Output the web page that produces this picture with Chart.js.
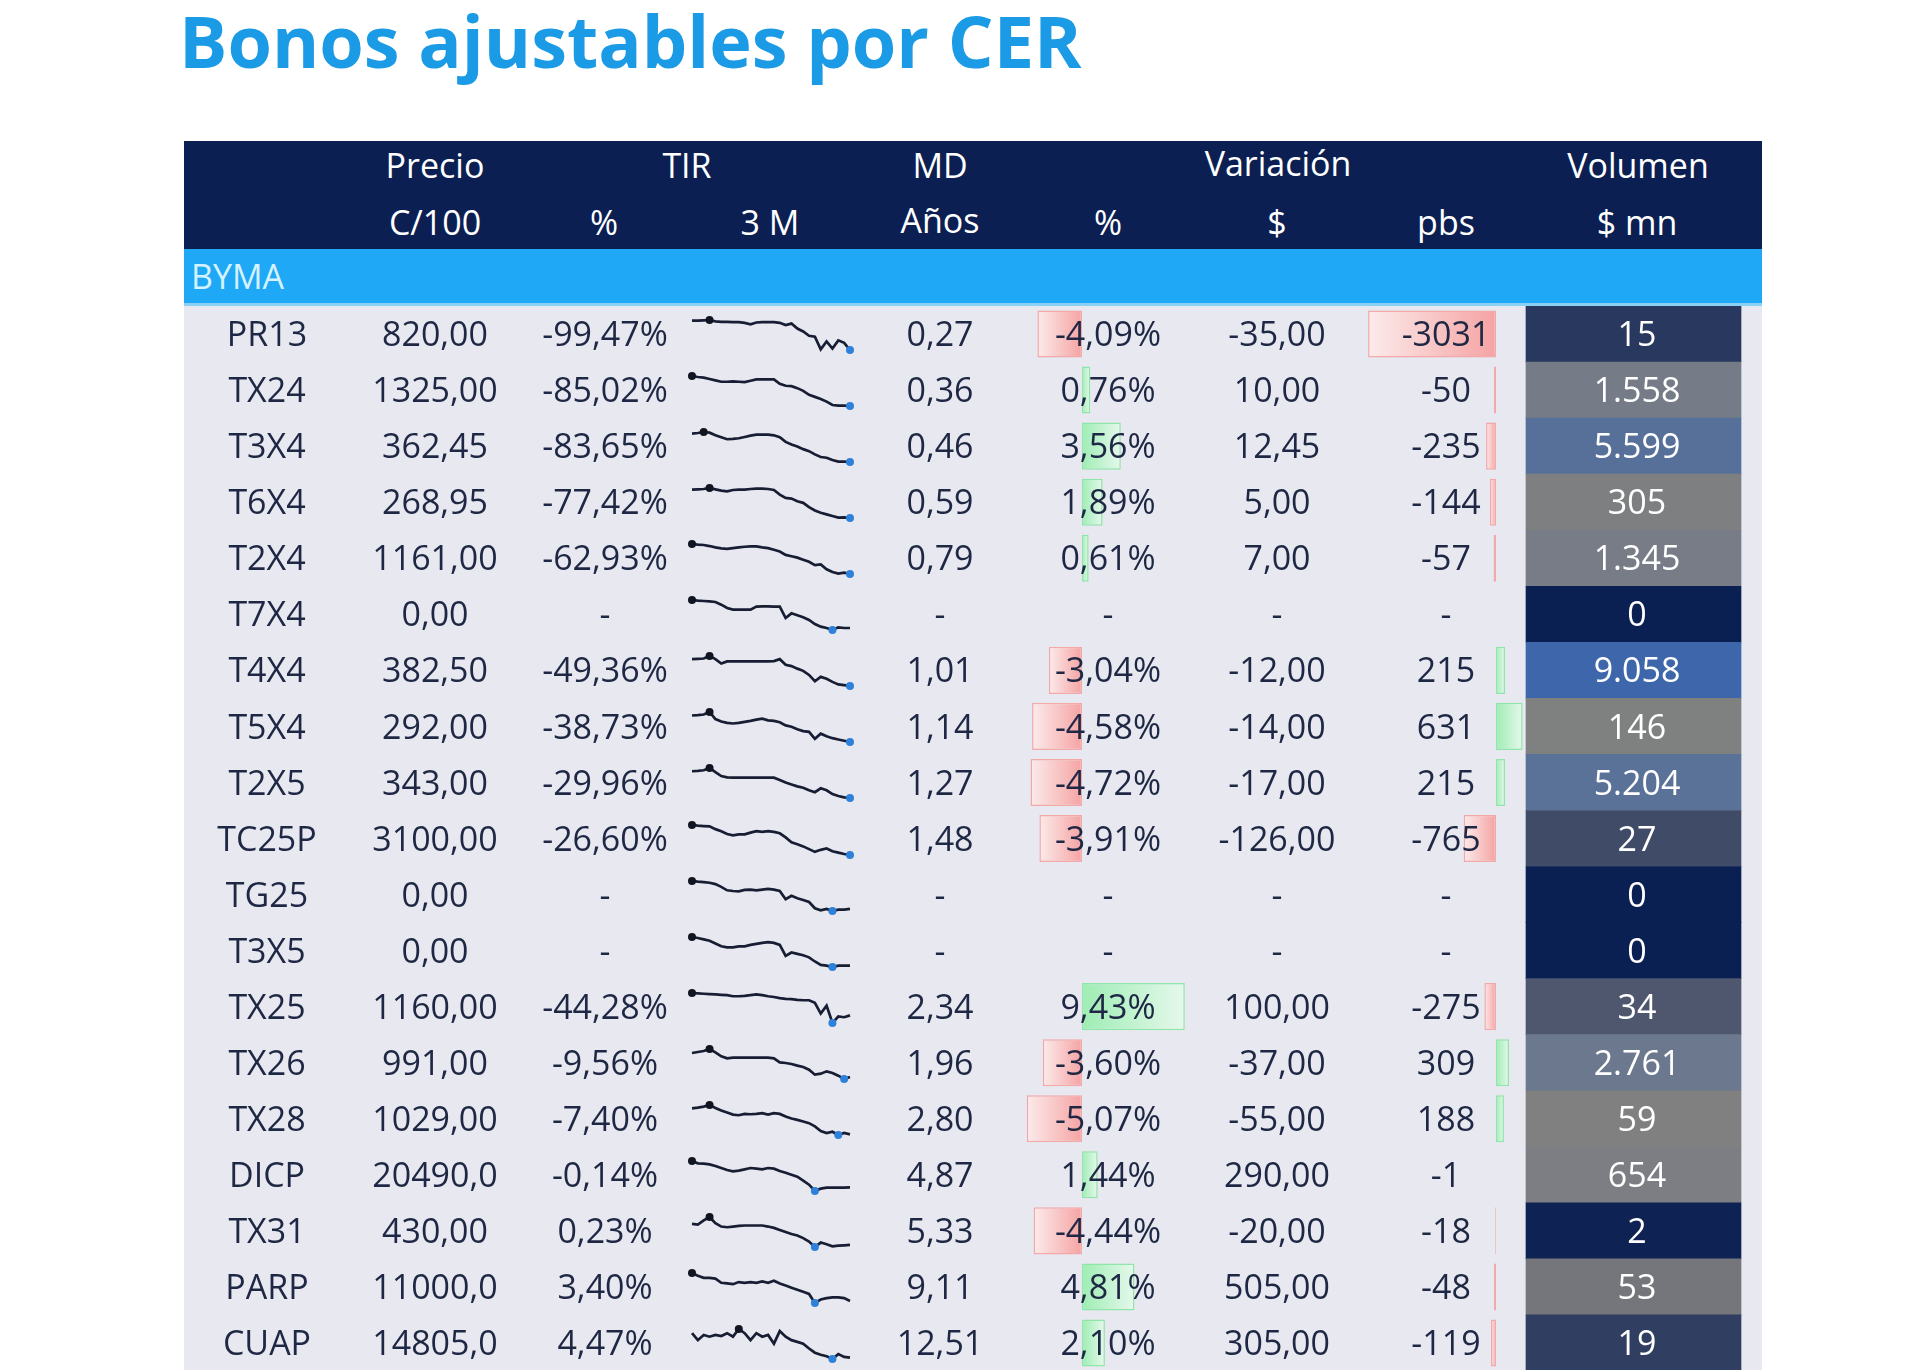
<!DOCTYPE html>
<html lang="es">
<head>
<meta charset="utf-8">
<title>Bonos ajustables por CER</title>
<script src="https://cdn.jsdelivr.net/npm/chart.js@4.4.1/dist/chart.umd.min.js"></script>
<style>
  html, body { margin: 0; padding: 0; background: #fff; width: 1920px; height: 1370px; overflow: hidden; font-family: 'Open Sans', sans-serif; }
  #title { position: absolute; left: 179px; top: 4px; font-size: 72px; line-height: 72px; font-weight: 700; color: #1b9be5; white-space: nowrap; }
  #head { position: absolute; left: 184px; top: 141px; width: 1578px; height: 108px; background: #0b1f53; }
  #byma { position: absolute; left: 184px; top: 249px; width: 1578px; height: 57px; background: #1fa8f5; border-bottom: 3px solid #8ad1f6; box-sizing: border-box; }
  #byma span { position: absolute; left: 7px; top: 50%; transform: translateY(-50%); color: #d4f2ff; font-size: 34px; }
  .h { position: absolute; color: #fff; font-size: 34px; line-height: 40px; transform: translate(-50%, -50%); white-space: nowrap; }
  #body { position: absolute; left: 184px; top: 306px; width: 1578px; height: 1065px; background: #e8e9f0; }
  #main { position: absolute; left: 0; top: 0; }
  .spark { position: absolute; }
</style>
</head>
<body>
<div id="title">Bonos ajustables por CER</div>
<div id="head">
  <div class="h" style="left:251px;top:24px">Precio</div>
  <div class="h" style="left:503px;top:24px">TIR</div>
  <div class="h" style="left:756px;top:24px">MD</div>
  <div class="h" style="left:1094px;top:22px">Variación</div>
  <div class="h" style="left:1454px;top:24px">Volumen</div>
  <div class="h" style="left:251px;top:81px">C/100</div>
  <div class="h" style="left:420px;top:81px">%</div>
  <div class="h" style="left:586px;top:81px">3 M</div>
  <div class="h" style="left:756px;top:79px">Años</div>
  <div class="h" style="left:924px;top:81px">%</div>
  <div class="h" style="left:1093px;top:81px">$</div>
  <div class="h" style="left:1262px;top:81px">pbs</div>
  <div class="h" style="left:1453px;top:81px">$ mn</div>
</div>
<div id="byma"><span>BYMA</span></div>
<div id="body"><canvas id="main" width="1578" height="1065"></canvas></div>
<script>
// ---- data ----
const tickers = ['PR13', 'TX24', 'T3X4', 'T6X4', 'T2X4', 'T7X4', 'T4X4', 'T5X4', 'T2X5', 'TC25P',
                 'TG25', 'T3X5', 'TX25', 'TX26', 'TX28', 'DICP', 'TX31', 'PARP', 'CUAP'];
const precio = [820, 1325, 362.45, 268.95, 1161, 0, 382.5, 292, 343, 3100,
                0, 0, 1160, 991, 1029, 20490, 430, 11000, 14805];
const tir = [-99.47, -85.02, -83.65, -77.42, -62.93, null, -49.36, -38.73, -29.96, -26.60,
             null, null, -44.28, -9.56, -7.40, -0.14, 0.23, 3.40, 4.47];
const md = [0.27, 0.36, 0.46, 0.59, 0.79, null, 1.01, 1.14, 1.27, 1.48,
            null, null, 2.34, 1.96, 2.80, 4.87, 5.33, 9.11, 12.51];
const varPct = [-4.09, 0.76, 3.56, 1.89, 0.61, null, -3.04, -4.58, -4.72, -3.91,
                null, null, 9.43, -3.60, -5.07, 1.44, -4.44, 4.81, 2.10];
const varPesos = [-35, 10, 12.45, 5, 7, null, -12, -14, -17, -126,
                  null, null, 100, -37, -55, 290, -20, 505, 305];
const varPbs = [-3031, -50, -235, -144, -57, null, 215, 631, 215, -765,
                null, null, -275, 309, 188, -1, -18, -48, -119];
const volumen = [15, 1558, 5599, 305, 1345, 0, 9058, 146, 5204, 27,
                 0, 0, 34, 2761, 59, 654, 2, 53, 19];

// 3 month sparklines (relative levels)
const sparkPR13 = [90, 90, 91, 92, 88, 87, 87, 86, 86, 84, 80, 85, 86, 86, 86, 84, 78, 82, 68, 60, 48, 45, 10, 32, 12, 35, 28, 8];
const sparkTX24 = [98, 95, 93, 89, 85, 81, 81, 82, 81, 80, 84, 88, 88, 88, 88, 75, 69, 68, 62, 54, 42, 36, 30, 22, 12, 10, 10, 9];
const sparkT3X4 = [95, 97, 100, 98, 90, 84, 78, 79, 81, 85, 89, 92, 92, 92, 90, 84, 70, 62, 56, 48, 42, 32, 24, 22, 15, 10, 10, 9];
const sparkT6X4 = [95, 96, 97, 100, 96, 92, 90, 94, 95, 95, 97, 98, 98, 97, 94, 80, 70, 68, 60, 55, 42, 32, 25, 20, 15, 10, 11, 9];
const sparkT2X4 = [92, 90, 89, 86, 82, 79, 78, 80, 82, 84, 85, 85, 82, 80, 75, 70, 60, 56, 52, 46, 40, 30, 32, 18, 10, 5, 8, 4];
const sparkT7X4 = [102, 100, 99, 98, 96, 88, 78, 73, 73, 73, 73, 82, 83, 83, 82, 82, 48, 62, 56, 50, 42, 30, 22, 18, 12, 20, 18, 18];
const sparkT4X4 = [102, 103, 104, 112, 102, 88, 95, 95, 95, 95, 95, 95, 95, 95, 96, 102, 84, 80, 72, 65, 52, 32, 46, 40, 30, 22, 20, 17];
const sparkT5X4 = [95, 96, 98, 106, 84, 76, 72, 70, 72, 75, 78, 82, 85, 80, 78, 74, 64, 60, 52, 46, 44, 22, 38, 30, 24, 20, 16, 12];
const sparkT2X5 = [95, 96, 98, 105, 92, 80, 76, 75, 75, 75, 75, 75, 75, 75, 75, 68, 60, 54, 48, 44, 36, 30, 42, 36, 24, 18, 14, 12];
const sparkTC25P = [102, 100, 99, 98, 90, 84, 76, 72, 75, 75, 80, 84, 82, 84, 82, 78, 66, 52, 46, 40, 32, 24, 30, 34, 26, 22, 18, 15];
const sparkTG25 = [105, 103, 102, 100, 96, 88, 78, 76, 75, 79, 80, 78, 80, 82, 80, 76, 52, 62, 55, 50, 44, 26, 20, 24, 18, 22, 22, 24];
const sparkT3X5 = [95, 92, 88, 84, 76, 68, 65, 65, 68, 68, 72, 75, 78, 80, 78, 72, 40, 50, 46, 42, 36, 24, 14, 12, 8, 12, 12, 12];
const sparkTX25 = [95, 94, 93, 92, 91, 90, 89, 86, 86, 87, 89, 91, 89, 86, 84, 81, 79, 78, 76, 75, 75, 68, 38, 60, 12, 30, 28, 33];
const sparkTX26 = [90, 93, 96, 102, 92, 80, 74, 76, 76, 76, 76, 76, 76, 76, 74, 62, 60, 57, 52, 48, 40, 25, 28, 35, 30, 22, 12, 18];
const sparkTX28 = [95, 97, 100, 105, 96, 88, 82, 76, 74, 78, 77, 78, 80, 76, 80, 78, 70, 64, 60, 55, 50, 40, 26, 20, 24, 14, 20, 16];
const sparkDICP = [105, 98, 97, 95, 90, 84, 78, 74, 76, 80, 84, 82, 80, 84, 82, 75, 70, 64, 58, 46, 34, 15, 22, 25, 25, 25, 25, 26];
const sparkTX31 = [80, 78, 90, 100, 82, 72, 70, 72, 74, 75, 75, 75, 75, 72, 68, 62, 56, 50, 46, 38, 28, 12, 25, 20, 14, 16, 17, 18];
const sparkPARP = [100, 92, 86, 86, 84, 72, 70, 68, 74, 72, 74, 72, 76, 72, 78, 70, 64, 58, 52, 46, 40, 14, 24, 28, 30, 30, 28, 20];
const sparkCUAP = [90, 70, 85, 80, 85, 82, 90, 80, 102, 90, 70, 90, 80, 85, 60, 96, 80, 70, 65, 60, 46, 34, 28, 24, 16, 30, 22, 20];

const sparks = [sparkPR13, sparkTX24, sparkT3X4, sparkT6X4, sparkT2X4, sparkT7X4, sparkT4X4, sparkT5X4, sparkT2X5, sparkTC25P,
                sparkTG25, sparkT3X5, sparkTX25, sparkTX26, sparkTX28, sparkDICP, sparkTX31, sparkPARP, sparkCUAP];

// ---- helpers ----
const W = 1578;
const TEXT = '#1e2743';

function fmtDec(v, d) { return v.toFixed(d).replace('.', ','); }
function fmtMiles(v) { return String(v).replace(/\B(?=(\d{3})+(?!\d))/g, '.'); }
function orDash(v, f) { return v === null ? '-' : f(v); }

// x axis range so that value 0 lands at zeroPx with pxPerUnit scale
function axisRange(zeroPx, pxPerUnit) {
    return { min: -zeroPx / pxPerUnit, max: (W - zeroPx) / pxPerUnit };
}

function hexToRgb(h) { return [1, 3, 5].map(k => parseInt(h.substr(k, 2), 16)); }
function mix(a, b, t) {
    const ca = hexToRgb(a), cb = hexToRgb(b);
    return 'rgb(' + ca.map((c, k) => Math.round(c + (cb[k] - c) * t)).join(',') + ')';
}

// three colour scale as in the sheet: min navy, 50th percentile gray, max blue
const sortedVol = [...volumen].sort((a, b) => a - b);
const volMin = sortedVol[0];
const volMax = sortedVol[sortedVol.length - 1];
const volMid = (() => {
    const p = 0.5 * (sortedVol.length - 1), lo = Math.floor(p);
    return sortedVol[lo] + (sortedVol[Math.ceil(p)] - sortedVol[lo]) * (p - lo);
})();
function volColor(v) {
    if (v <= volMid) return mix('#0a1f52', '#808080', (v - volMin) / (volMid - volMin));
    return mix('#808080', '#3e66aa', (v - volMid) / (volMax - volMid));
}

function barGradient(ctx, axisId) {
    const chart = ctx.chart;
    const sc = chart.scales[axisId];
    if (!sc || ctx.raw === null || ctx.raw === undefined) return 'rgba(0,0,0,0)';
    const x0 = sc.getPixelForValue(0), x1 = sc.getPixelForValue(ctx.raw);
    if (!isFinite(x0) || !isFinite(x1) || x0 === x1) return ctx.raw < 0 ? '#f5a8a8' : '#a3eeb8';
    const g = chart.ctx.createLinearGradient(x0, 0, x1, 0);
    if (ctx.raw < 0) { g.addColorStop(0, '#f5a3a3'); g.addColorStop(1, '#fcebeb'); }
    else { g.addColorStop(0, '#9eedb4'); g.addColorStop(1, '#e6f8ec'); }
    return g;
}
const barBorder = ctx => (ctx.raw < 0 ? '#f4a9a9' : '#90e5a8');

// ---- text columns drawn on the rows ----
const columns = [
    { x: 83, text: i => tickers[i] },
    { x: 251, text: i => fmtDec(precio[i], precio[i] >= 10000 ? 1 : 2) },
    { x: 421, text: i => orDash(tir[i], v => fmtDec(v, 2) + '%') },
    { x: 756, text: i => orDash(md[i], v => fmtDec(v, 2)) },
    { x: 924, text: i => orDash(varPct[i], v => fmtDec(v, 2) + '%') },
    { x: 1093, text: i => orDash(varPesos[i], v => fmtDec(v, 2)) },
    { x: 1262, text: i => orDash(varPbs[i], v => String(v)) },
    { x: 1453, text: i => fmtMiles(volumen[i]), color: '#ffffff' }
];

const tableText = {
    id: 'tableText',
    afterDatasetsDraw(chart) {
        const { ctx, scales: { y } } = chart;
        const size = 34;
        ctx.save();
        ctx.font = '400 ' + size + 'px "Open Sans"';
        ctx.textAlign = 'center';
        ctx.textBaseline = 'alphabetic';
        tickers.forEach((t, i) => {
            const yc = y.getPixelForValue(i) + size * 0.357;
            columns.forEach(col => {
                ctx.fillStyle = col.color || TEXT;
                ctx.fillText(col.text(i), col.x, yc);
            });
        });
        ctx.restore();
    }
};

const pctRange = axisRange(898, 10.9);
const pbsRange = axisRange(1312, 0.0422);
const volRange = axisRange(1342, 215);

const mainChart = new Chart(document.getElementById('main'), {
    type: 'bar',
    data: {
        labels: tickers,
        datasets: [
            {
                label: 'Volumen',
                data: volumen.map(() => [0, 1]),
                xAxisID: 'xVol',
                grouped: false,
                barPercentage: 1,
                categoryPercentage: 1,
                borderWidth: 0,
                backgroundColor: ctx => volColor(volumen[ctx.dataIndex])
            },
            {
                label: 'Variación %',
                data: varPct,
                xAxisID: 'xPct',
                grouped: false,
                barPercentage: 0.84,
                categoryPercentage: 1,
                borderWidth: 1.5,
                borderSkipped: false,
                borderColor: barBorder,
                backgroundColor: ctx => barGradient(ctx, 'xPct')
            },
            {
                label: 'Variación pbs',
                data: varPbs,
                xAxisID: 'xPbs',
                grouped: false,
                barPercentage: 0.84,
                categoryPercentage: 1,
                borderWidth: 1.5,
                borderSkipped: false,
                borderColor: barBorder,
                backgroundColor: ctx => barGradient(ctx, 'xPbs')
            }
        ]
    },
    options: {
        indexAxis: 'y',
        responsive: false,
        animation: false,
        events: [],
        layout: { padding: 0 },
        plugins: { legend: { display: false }, tooltip: { enabled: false } },
        scales: {
            y: { type: 'category', display: false, offset: true },
            xPct: { type: 'linear', axis: 'x', display: false, min: pctRange.min, max: pctRange.max },
            xPbs: { type: 'linear', axis: 'x', display: false, min: pbsRange.min, max: pbsRange.max },
            xVol: { type: 'linear', axis: 'x', display: false, min: volRange.min, max: volRange.max }
        }
    },
    plugins: [tableText]
});

// ---- sparklines, one small chart per row ----
const bodyEl = document.getElementById('body');
sparks.forEach((s, i) => {
    const cv = document.createElement('canvas');
    cv.className = 'spark';
    cv.width = 166;
    cv.height = 40;
    cv.style.left = (688 - 184) + 'px';
    cv.style.top = Math.round(mainChart.scales.y.getPixelForValue(i) - 19) + 'px';
    bodyEl.appendChild(cv);
    const sMax = Math.max(...s), sMin = Math.min(...s);
    const hi = s.indexOf(sMax);
    const lo = s.indexOf(sMin);
    new Chart(cv, {
        type: 'line',
        data: {
            labels: s.map((_, k) => k),
            datasets: [{
                data: s,
                clip: false,
                borderColor: '#171d33',
                borderWidth: 2.7,
                tension: 0,
                pointRadius: c => (c.dataIndex === hi || c.dataIndex === lo ? 4 : 0),
                pointBackgroundColor: c => (c.dataIndex === lo ? '#2e80d8' : '#111522'),
                pointBorderWidth: 0
            }]
        },
        options: {
            responsive: false,
            animation: false,
            events: [],
            layout: { padding: { top: 5, bottom: 5, left: 4, right: 4 } },
            plugins: { legend: { display: false }, tooltip: { enabled: false } },
            scales: {
                x: { display: false },
                y: { display: false, min: sMin, max: sMax, grace: 0 }
            }
        }
    });
});
</script>
</body>
</html>
